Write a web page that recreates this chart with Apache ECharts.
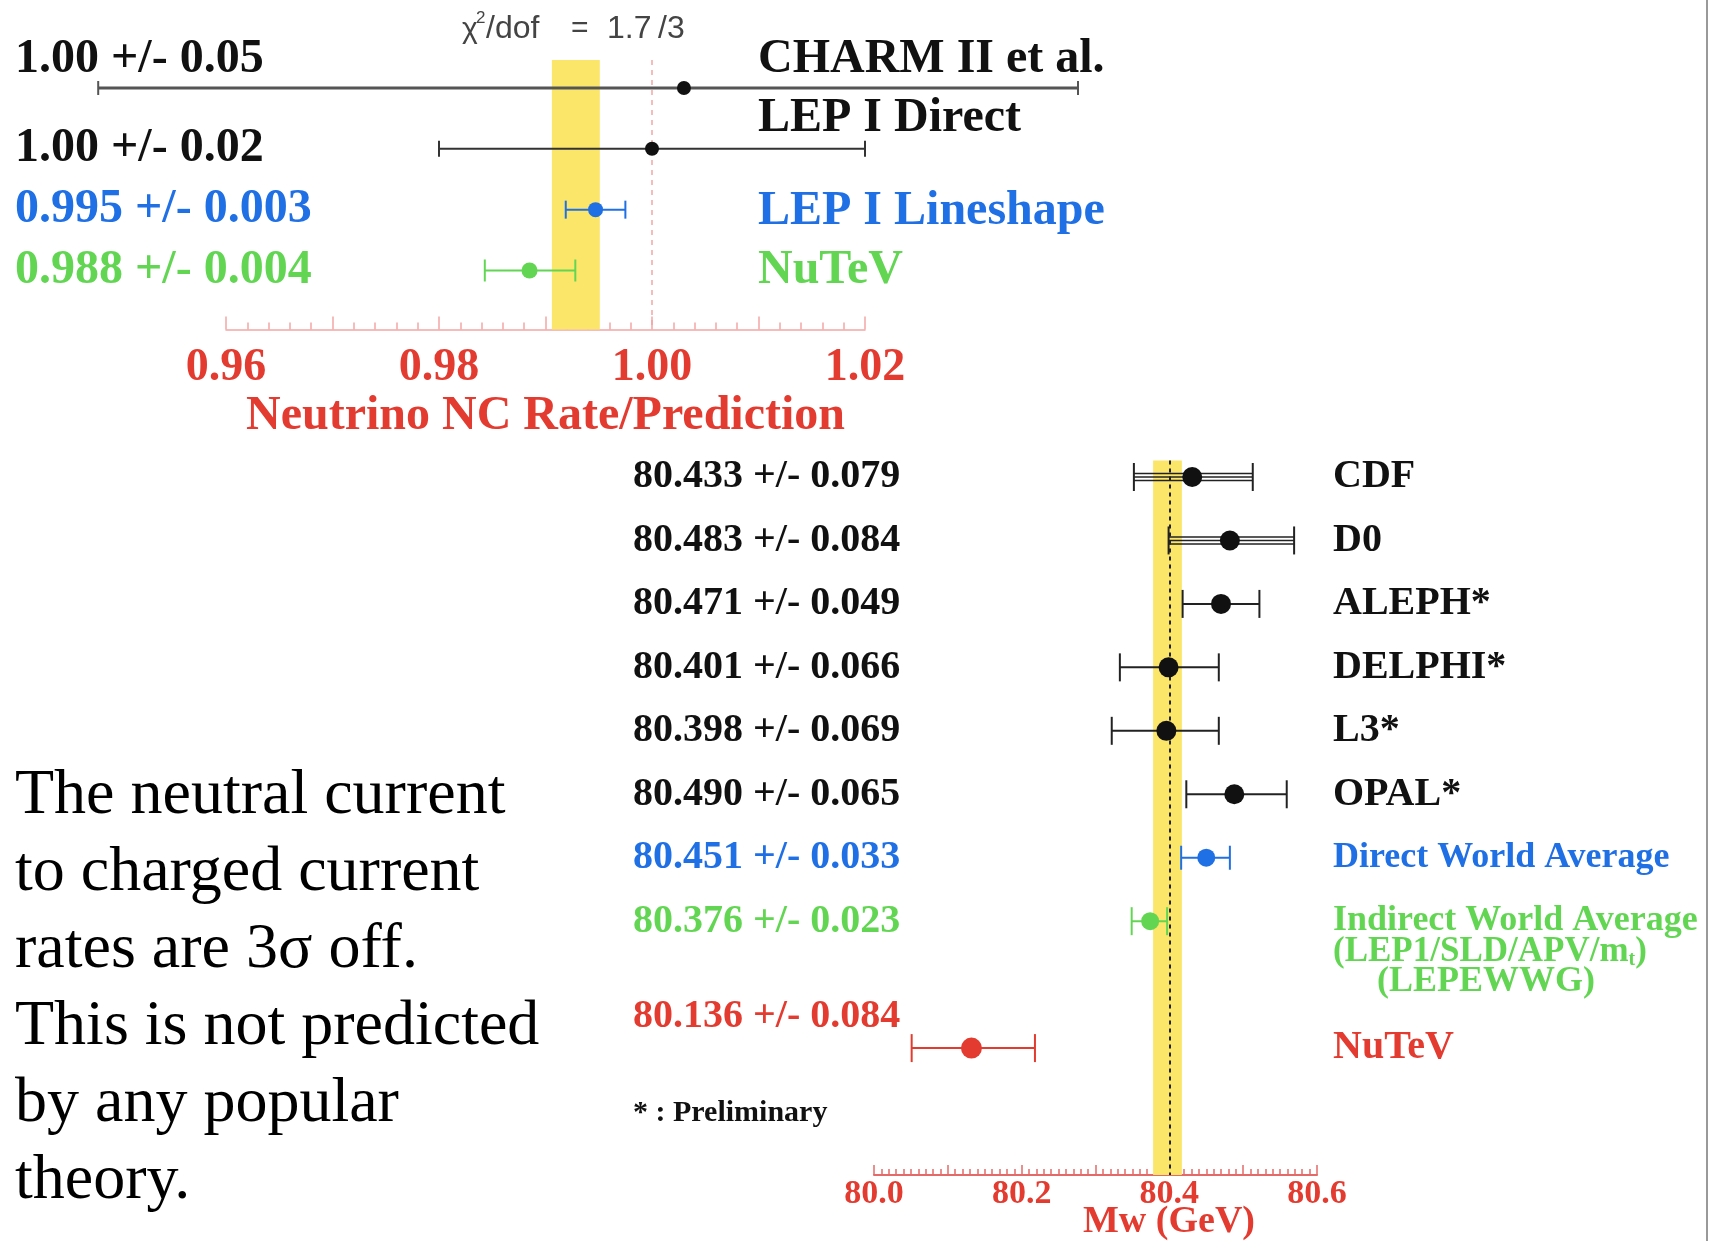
<!DOCTYPE html>
<html>
<head>
<meta charset="utf-8">
<title>Neutrino NC rate and W mass</title>
<script src="https://cdn.jsdelivr.net/npm/echarts@6/dist/echarts.min.js"></script>
<style>
  html, body { margin: 0; padding: 0; background: #fff; }
  #main { width: 1711px; height: 1241px; }
</style>
</head>
<body>
<div id="main"></div>
<script>
// top panel: neutrino NC rate / prediction
const ncNames  = ['CHARM II et al.', 'LEP I Direct', 'LEP I Lineshape', 'NuTeV'];
const ncLabels = ['1.00 +/- 0.05', '1.00 +/- 0.02', '0.995 +/- 0.003', '0.988 +/- 0.004'];
const ncRow    = [0, 1, 2, 3];
const ncValue  = [1.003, 1.000, 0.9947, 0.9885];
const ncLow    = [0.948, 0.980, 0.9919, 0.9843];
const ncHigh   = [1.040, 1.020, 0.9975, 0.9928];
const ncBand   = [0.9906, 0.9951];
const ncRef    = 1.00;

// bottom panel: W mass
const mwNames  = ['CDF', 'D0', 'ALEPH*', 'DELPHI*', 'L3*', 'OPAL*',
                  'Direct World Average', 'Indirect World Average', 'NuTeV'];
const mwLabels = ['80.433 +/- 0.079', '80.483 +/- 0.084', '80.471 +/- 0.049',
                  '80.401 +/- 0.066', '80.398 +/- 0.069', '80.490 +/- 0.065',
                  '80.451 +/- 0.033', '80.376 +/- 0.023', '80.136 +/- 0.084'];
const mwRow    = [0, 1, 2, 3, 4, 5, 6, 7, 9];
const mwValue  = [80.431, 80.482, 80.470, 80.399, 80.396, 80.488, 80.450, 80.374, 80.132];
const mwLow    = [80.352, 80.399, 80.418, 80.333, 80.322, 80.423, 80.416, 80.349, 80.051];
const mwHigh   = [80.513, 80.569, 80.522, 80.467, 80.467, 80.559, 80.482, 80.397, 80.218];
const mwBand   = [80.378, 80.417];
const mwRef    = 80.399;

const paragraph = ['The neutral current', 'to charged current', 'rates are 3σ off.',
                   'This is not predicted', 'by any popular', 'theory.'];

// colours
const BLACK = '#111', BLUE = '#1f6fe5', GREEN = '#62d652', RED = '#e33b2f', YELLOW = '#fbe66a';
const SERIF = '"Liberation Serif", "Times New Roman", serif';
const SANS = '"Liberation Sans", Arial, sans-serif';

const topStyle = {
  colors: [BLACK, BLACK, BLUE, GREEN],
  barColors: ['#555', '#333', BLUE, GREEN],
  barWidth: [3, 2, 2, 2],
  radius: [7, 7, 7.5, 8],
  cap: [7, 8, 9, 11],
  leftX: 15, rightX: 758,
  leftShift: [-28, 0, 0, 0],
  rightShift: [-28, -30, 2, 0],
  leftSize: [48, 48, 48, 48],
  rightSize: [48, 48, 48, 48],
  multi: []
};
const botStyle = {
  colors: [BLACK, BLACK, BLACK, BLACK, BLACK, BLACK, BLUE, GREEN, RED],
  barColors: ['#222', '#222', '#222', '#222', '#222', '#222', BLUE, GREEN, RED],
  barWidth: [1.5, 1.5, 2, 2, 2, 2, 2, 2, 2],
  radius: [10, 10, 10, 10, 10, 10, 9, 9, 10.5],
  cap: [14, 14, 14, 14, 14, 14, 12, 14, 14],
  leftX: 633, rightX: 1333,
  leftShift: [0, 0, 0, 0, 0, 0, 0, 0, -31],
  rightShift: [0, 0, 0, 0, 0, 0, 0, 0, 0],
  leftSize: [40, 40, 40, 40, 40, 40, 40, 40, 40],
  rightSize: [40, 40, 40, 40, 40, 40, 36, 36, 40],
  multi: [0, 1]
};

function makeRenderer(names, labels, st, extra) {
  return function (params, api) {
    const i = params.dataIndex;
    const row = api.value(0);
    const pv = api.coord([api.value(1), row]);
    const pl = api.coord([api.value(2), row]);
    const ph = api.coord([api.value(3), row]);
    const y = pv[1];
    const stroke = st.barColors[i];
    const lw = st.barWidth[i];
    const children = [];
    const offs = st.multi.indexOf(i) >= 0 ? [-3.5, 0, 3.5] : [0];
    offs.forEach(function (o) {
      children.push({ type: 'line', shape: { x1: pl[0], y1: y + o, x2: ph[0], y2: y + o },
        style: { stroke: stroke, lineWidth: lw } });
    });
    [pl[0], ph[0]].forEach(function (x) {
      children.push({ type: 'line', shape: { x1: x, y1: y - st.cap[i], x2: x, y2: y + st.cap[i] },
        style: { stroke: stroke, lineWidth: 2 } });
    });
    children.push({ type: 'circle', shape: { cx: pv[0], cy: y, r: st.radius[i] },
      style: { fill: st.colors[i] } });
    children.push({ type: 'text', x: st.leftX, y: y + st.leftShift[i],
      style: { text: labels[i], fill: st.colors[i], fontSize: st.leftSize[i],
        fontWeight: 'bold', fontFamily: SERIF, align: 'left', verticalAlign: 'middle' } });
    children.push({ type: 'text', x: st.rightX, y: y + st.rightShift[i],
      style: { text: names[i], fill: st.colors[i], fontSize: st.rightSize[i],
        fontWeight: 'bold', fontFamily: SERIF, align: 'left', verticalAlign: 'middle' } });
    if (extra) extra(i, y, children);
    return { type: 'group', children: children };
  };
}

// extra lines under "Indirect World Average"
function indirectNote(i, y, children) {
  if (mwNames[i] !== 'Indirect World Average') return;
  children.push({ type: 'text', x: 1333, y: y + 31,
    style: { text: '{n|(LEP1/SLD/APV/m}{s|t}{n|)}', align: 'left', verticalAlign: 'middle',
      rich: {
        n: { fontSize: 35, fontWeight: 'bold', fontFamily: SERIF, fill: GREEN, color: GREEN },
        s: { fontSize: 20, fontWeight: 'bold', fontFamily: SERIF, fill: GREEN, color: GREEN, verticalAlign: 'bottom' }
      } } });
  children.push({ type: 'text', x: 1377, y: y + 61,
    style: { text: '(LEPEWWG)', fill: GREEN, fontSize: 36, fontWeight: 'bold', fontFamily: SERIF,
      align: 'left', verticalAlign: 'middle' } });
}

const chart = echarts.init(document.getElementById('main'));

const axisRedLight = '#f3a5a5';
const axisRed = '#e46a6a';

const option = {
  backgroundColor: '#fff',
  animation: false,
  grid: [
    { left: 226, top: 60, width: 639, height: 269.5, outerBoundsMode: 'none' },
    { left: 874, top: 460.5, width: 443, height: 714.5, outerBoundsMode: 'none' }
  ],
  xAxis: [
    {
      gridIndex: 0, type: 'value', position: 'bottom', min: 0.96, max: 1.02, interval: 0.01,
      axisLine: { show: true, onZero: false, lineStyle: { color: axisRedLight, width: 1.5 } },
      axisTick: { show: true, inside: true, length: 13, lineStyle: { color: axisRedLight, width: 1.5 } },
      minorTick: { show: true, splitNumber: 5, length: 7, lineStyle: { color: axisRedLight, width: 1.5 } },
      splitLine: { show: false },
      axisLabel: {
        margin: 16, color: RED, fontFamily: SERIF, fontWeight: 'bold', fontSize: 46,
        formatter: function (v) { return Math.round(v * 100) % 2 === 0 ? v.toFixed(2) : ''; }
      },
      name: 'Neutrino NC Rate/Prediction', nameLocation: 'middle', nameGap: 50,
      nameTextStyle: { color: RED, fontFamily: SERIF, fontWeight: 'bold', fontSize: 48 }
    },
    {
      gridIndex: 1, type: 'value', position: 'bottom', min: 80.0, max: 80.6, interval: 0.1,
      axisLine: { show: true, onZero: false, lineStyle: { color: axisRed, width: 2 } },
      axisTick: { show: true, inside: true, length: 10, lineStyle: { color: axisRed, width: 1.5 } },
      minorTick: { show: true, splitNumber: 10, length: 6, lineStyle: { color: axisRed, width: 1.5 } },
      splitLine: { show: false },
      axisLabel: {
        margin: 2, color: RED, fontFamily: SERIF, fontWeight: 'bold', fontSize: 34,
        formatter: function (v) { return Math.round(v * 10) % 2 === 0 ? v.toFixed(1) : ''; }
      }
    }
  ],
  yAxis: [
    { gridIndex: 0, type: 'value', min: -0.46, max: 3.97, inverse: true, show: false },
    { gridIndex: 1, type: 'value', min: -0.26, max: 11.0, inverse: true, show: false }
  ],
  series: [
    {
      type: 'line', xAxisIndex: 0, yAxisIndex: 0, data: [], z: 1, silent: true,
      markArea: { silent: true, itemStyle: { color: YELLOW },
        data: [[{ xAxis: ncBand[0] }, { xAxis: ncBand[1] }]] }
    },
    {
      type: 'line', xAxisIndex: 0, yAxisIndex: 0, data: [], z: 3, silent: true,
      markLine: { silent: true, symbol: 'none', label: { show: false },
        lineStyle: { color: axisRedLight, type: [5, 5], width: 1.5 },
        data: [{ xAxis: ncRef }] }
    },
    {
      type: 'line', xAxisIndex: 1, yAxisIndex: 1, data: [], z: 1, silent: true,
      markArea: { silent: true, itemStyle: { color: YELLOW },
        data: [[{ xAxis: mwBand[0] }, { xAxis: mwBand[1] }]] }
    },
    {
      type: 'line', xAxisIndex: 1, yAxisIndex: 1, data: [], z: 3, silent: true,
      markLine: { silent: true, symbol: 'none', label: { show: false },
        lineStyle: { color: '#222', type: [4, 4], width: 2 },
        data: [{ xAxis: mwRef }] }
    },
    {
      type: 'custom', xAxisIndex: 0, yAxisIndex: 0, z: 5, clip: false,
      renderItem: makeRenderer(ncNames, ncLabels, topStyle),
      encode: { x: [1, 2, 3], y: 0 },
      data: ncRow.map(function (r, i) { return [r, ncValue[i], ncLow[i], ncHigh[i]]; })
    },
    {
      type: 'custom', xAxisIndex: 1, yAxisIndex: 1, z: 5, clip: false,
      renderItem: makeRenderer(mwNames, mwLabels, botStyle, indirectNote),
      encode: { x: [1, 2, 3], y: 0 },
      data: mwRow.map(function (r, i) { return [r, mwValue[i], mwLow[i], mwHigh[i]]; })
    }
  ],
  graphic: [
    { type: 'text', x: 462, y: 30, style: { text: 'χ', fill: '#444', fontSize: 30,
        fontFamily: SANS, verticalAlign: 'middle' } },
    { type: 'text', x: 476, y: 18, style: { text: '2', fill: '#444', fontSize: 17,
        fontFamily: SANS, verticalAlign: 'middle' } },
    { type: 'text', x: 486, y: 29, style: { text: '/dof', fill: '#444', fontSize: 32,
        fontFamily: SANS, verticalAlign: 'middle' } },
    { type: 'text', x: 571, y: 29, style: { text: '=', fill: '#444', fontSize: 30,
        fontFamily: SANS, verticalAlign: 'middle' } },
    { type: 'text', x: 607, y: 29, style: { text: '1.7', fill: '#444', fontSize: 32,
        fontFamily: SANS, verticalAlign: 'middle' } },
    { type: 'text', x: 658, y: 29, style: { text: '/3', fill: '#444', fontSize: 32,
        fontFamily: SANS, verticalAlign: 'middle' } },
    { type: 'text', x: 1169, y: 1222, style: { text: 'Mw (GeV)', fill: RED, fontSize: 38,
        fontWeight: 'bold', fontFamily: SERIF, align: 'center', verticalAlign: 'middle' } },
    { type: 'text', x: 633, y: 1113, style: { text: '* : Preliminary', fill: BLACK, fontSize: 30,
        fontWeight: 'bold', fontFamily: SERIF, verticalAlign: 'middle' } },
    { type: 'text', x: 15, y: 758, style: { text: paragraph.join('\n'), fill: '#000', fontSize: 64,
        lineHeight: 77, fontFamily: SERIF, verticalAlign: 'top' } },
    { type: 'line', shape: { x1: 1707, y1: 0, x2: 1707, y2: 1241 },
      style: { stroke: '#999', lineWidth: 2 } }
  ]
};

chart.setOption(option);
window.addEventListener('resize', chart.resize);
</script>
</body>
</html>
